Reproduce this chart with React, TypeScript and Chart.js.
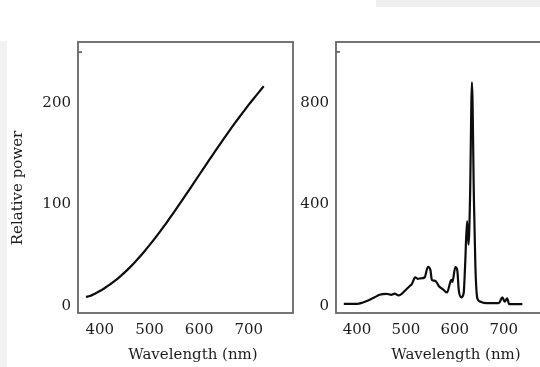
import React, { useEffect, useRef } from "react";
import { Chart, registerables } from "chart.js";

Chart.register(...registerables);

// Left panel: incandescent source (relative power vs wavelength)
const incWavelengths = [372, 380, 390, 400, 410, 420, 430, 440, 450, 460, 470, 480, 490, 500, 510, 520, 530, 540, 550, 560, 570, 580, 590, 600, 610, 620, 630, 640, 650, 660, 670, 680, 690, 700, 710, 720, 730];
const incPower = [9, 9.8, 12.1, 14.7, 17.7, 21.0, 24.7, 28.7, 33.1, 37.8, 42.9, 48.2, 53.9, 59.9, 66.1, 72.5, 79.1, 86.0, 92.9, 100, 107.2, 114.4, 121.7, 129.0, 136.3, 143.6, 150.8, 158.0, 165.0, 172.0, 178.8, 185.4, 191.9, 198.3, 204.4, 210.4, 216.5];

// Right panel: line-spectrum source
const fluoWavelengths = [373, 400, 412, 425, 436, 446, 460, 470, 477, 484, 490, 501, 507, 512, 519, 524, 531, 538, 545, 550, 553, 560, 567, 577, 584, 591, 593, 595, 601, 605, 608, 613, 618, 621, 625, 628, 631, 635, 639, 642, 646, 652, 660, 670, 680, 690, 697, 702, 707, 711, 725, 738];
const fluoPower = [8, 8, 14, 24, 34, 44, 48, 44, 49, 42, 46, 66, 77, 86, 113, 107, 109, 112, 154, 142, 103, 99, 79, 63, 53, 96, 103, 95, 153, 140, 63, 34, 50, 160, 334, 241, 420, 880, 420, 156, 30, 17, 12, 11, 11, 11, 34, 17, 30, 7, 7, 7];

const xTickValues = [400, 500, 600, 700];
const leftYTickValues = [0, 100, 200];
const rightYTickValues = [0, 400, 800];
const leftTopMinorTick = 250;
const rightTopMinorTick = 1000;

const yTitleText = "Relative power";
const xTitleText = "Wavelength (nm)";

const FONT_FAMILY = '"DejaVu Serif", serif';
const TEXT_COLOR = "#1c1c1c";
const FRAME_COLOR = "#666666";

type PanelSpec = {
  wavelengths: number[];
  power: number[];
  yTicks: number[];
  minorTop: number;
  xMin: number;
  xMax: number;
  yMin: number;
  yMax: number;
  canvasWidth: number;
  areaLeft: number;
  areaRight: number;
  xTitlePos: [number, number];
  yTitlePos: [number, number] | null;
};

const CANVAS_HEIGHT = 367;
const AREA_TOP = 42;
const AREA_BOTTOM = 313;

function buildConfig(p: PanelSpec): any {
  const framePlugin = {
    id: "frameAndTitles",
    afterDraw(chart: any) {
      const { ctx, chartArea } = chart;
      ctx.save();
      ctx.strokeStyle = FRAME_COLOR;
      ctx.lineWidth = 1.8;
      ctx.strokeRect(chartArea.left, chartArea.top, chartArea.right - chartArea.left, chartArea.bottom - chartArea.top);
      const yScale = chart.scales.y;
      const ty = yScale.getPixelForValue(p.minorTop);
      ctx.beginPath();
      ctx.moveTo(chartArea.left, ty);
      ctx.lineTo(chartArea.left + 4, ty);
      ctx.stroke();
      ctx.fillStyle = TEXT_COLOR;
      ctx.font = `15px ${FONT_FAMILY}`;
      ctx.textAlign = "center";
      ctx.textBaseline = "middle";
      ctx.fillText(xTitleText, p.xTitlePos[0], p.xTitlePos[1]);
      if (p.yTitlePos) {
        ctx.translate(p.yTitlePos[0], p.yTitlePos[1]);
        ctx.rotate(-Math.PI / 2);
        ctx.fillText(yTitleText, 0, 0);
      }
      ctx.restore();
    },
  };

  return {
    type: "line",
    data: {
      datasets: [
        {
          data: p.wavelengths.map((w, i) => ({ x: w, y: p.power[i] })),
          borderColor: "#0d0d0d",
          borderWidth: 2.2,
          pointRadius: 0,
          fill: false,
          tension: 0.4,
          cubicInterpolationMode: "monotone",
        },
      ],
    },
    options: {
      responsive: false,
      animation: false,
      devicePixelRatio: 1,
      layout: {
        padding: { top: AREA_TOP, right: p.canvasWidth - p.areaRight, bottom: 0, left: 0 },
      },
      plugins: {
        legend: { display: false },
        tooltip: { enabled: false },
        title: { display: false },
      },
      scales: {
        x: {
          type: "linear",
          min: p.xMin,
          max: p.xMax,
          afterBuildTicks: (scale: any) => {
            scale.ticks = xTickValues.map((v) => ({ value: v }));
          },
          afterFit: (scale: any) => {
            scale.height = CANVAS_HEIGHT - AREA_BOTTOM;
          },
          grid: { display: false, drawTicks: false },
          border: { display: false },
          ticks: {
            color: TEXT_COLOR,
            padding: 8,
            maxRotation: 0,
            font: { family: FONT_FAMILY, size: 15 },
          },
        },
        y: {
          type: "linear",
          min: p.yMin,
          max: p.yMax,
          afterBuildTicks: (scale: any) => {
            scale.ticks = p.yTicks.map((v) => ({ value: v }));
          },
          afterFit: (scale: any) => {
            scale.width = p.areaLeft;
          },
          grid: { display: false, drawTicks: false },
          border: { display: false },
          ticks: {
            color: TEXT_COLOR,
            padding: 7,
            font: { family: FONT_FAMILY, size: 15 },
          },
        },
      },
    },
    plugins: [framePlugin],
  };
}

function Panel({ spec, left }: { spec: PanelSpec; left: number }) {
  const ref = useRef<HTMLCanvasElement | null>(null);
  useEffect(() => {
    if (!ref.current) return;
    const chart = new Chart(ref.current, buildConfig(spec));
    return () => chart.destroy();
  }, []);
  return (
    <canvas
      ref={ref}
      width={spec.canvasWidth}
      height={CANVAS_HEIGHT}
      style={{ position: "absolute", left, top: 0, width: spec.canvasWidth, height: CANVAS_HEIGHT, display: "block" }}
    />
  );
}

const leftSpec: PanelSpec = {
  wavelengths: incWavelengths,
  power: incPower,
  yTicks: leftYTickValues,
  minorTop: leftTopMinorTick,
  xMin: 356,
  xMax: 789,
  yMin: -6.9,
  yMax: 260,
  canvasWidth: 300,
  areaLeft: 78,
  areaRight: 293,
  xTitlePos: [193, 355],
  yTitlePos: [18, 188],
};

const rightSpec: PanelSpec = {
  wavelengths: fluoWavelengths,
  power: fluoPower,
  yTicks: rightYTickValues,
  minorTop: rightTopMinorTick,
  xMin: 357,
  xMax: 815,
  yMin: -27.6,
  yMax: 1039,
  canvasWidth: 270,
  areaLeft: 36,
  areaRight: 260,
  xTitlePos: [156, 355],
  yTitlePos: null,
};

export default function App() {
  return (
    <div
      style={{
        position: "fixed",
        left: 0,
        top: 0,
        width: 540,
        height: 367,
        overflow: "hidden",
        background: "#ffffff",
      }}
    >
      <div style={{ position: "absolute", left: 376, top: 0, width: 164, height: 7, background: "#efefef" }} />
      <div style={{ position: "absolute", left: 0, top: 41, width: 7, height: 326, background: "#f2f2f2" }} />
      <Panel spec={leftSpec} left={0} />
      <Panel spec={rightSpec} left={300} />
    </div>
  );
}
